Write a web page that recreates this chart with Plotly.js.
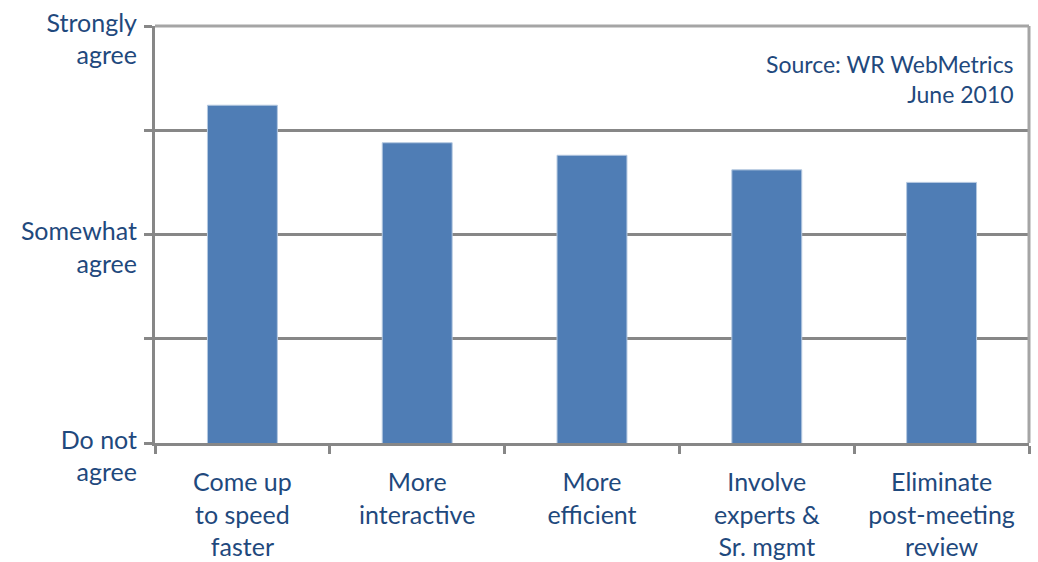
<!DOCTYPE html>
<html>
<head>
<meta charset="utf-8">
<script src="https://cdn.plot.ly/plotly-3.0.1.min.js"></script>
<style>html,body{margin:0;padding:0;background:#fff}#chart{width:1038px;height:562px}</style>
</head>
<body>
<div id="chart"></div>
<script>
const categories = ["Come up<br>to speed<br>faster", "More<br>interactive", "More<br>efficient", "Involve<br>experts &<br>Sr. mgmt", "Eliminate<br>post-meeting<br>review"];
const values = [2.62, 2.44, 2.38, 2.31, 2.25];
const tickVals = [1, 1.5, 2, 2.5, 3];
const tickText = ["Do not<br>agree", "", "Somewhat<br>agree", "", "Strongly<br>agree"];
const sourceText = "Source: WR WebMetrics<br>June 2010";

const textColor = "#1f497d";
const gridColor = "#878787";
const font = "Lato, 'Open Sans', sans-serif";

const data = [{
  type: "bar",
  x: categories,
  y: values,
  marker: {color: "#4f7db5", line: {color: "#b4c8e0", width: 1}},
  hoverinfo: "skip"
}];

const layout = {
  width: 1038, height: 562,
  margin: {l: 155, r: 9, t: 26, b: 119},
  paper_bgcolor: "#fff", plot_bgcolor: "#fff",
  showlegend: false,
  bargap: 0.6,
  font: {family: font, color: textColor, size: 25},
  xaxis: {
    type: "category",
    showline: true, linecolor: gridColor, linewidth: 3,
    ticks: "outside", tickson: "boundaries", ticklen: 8, tickwidth: 3, tickcolor: gridColor,
    showgrid: false, zeroline: false,
    ticklabelstandoff: 15,
    ticklabeloverflow: "allow",
    tickfont: {family: font, color: textColor, size: 25},
    fixedrange: true
  },
  yaxis: {
    range: [1, 3],
    tickmode: "array", tickvals: tickVals, ticktext: tickText,
    showline: true, linecolor: gridColor, linewidth: 3,
    ticks: "outside", ticklen: 8, tickwidth: 3, tickcolor: gridColor,
    showgrid: true, gridcolor: gridColor, gridwidth: 3,
    zeroline: false,
    ticklabelshift: 13,
    ticklabelstandoff: 2,
    ticklabeloverflow: "allow",
    tickfont: {family: font, color: textColor, size: 25},
    fixedrange: true
  },
  shapes: [
    {type: "line", xref: "paper", yref: "paper", x0: 0, x1: 1, y0: 1, y1: 1, line: {color: "#a5a5a5", width: 3}},
    {type: "line", xref: "paper", yref: "paper", x0: 1, x1: 1, y0: 0, y1: 1, line: {color: "#a5a5a5", width: 3}}
  ],
  annotations: [{
    xref: "paper", yref: "paper", x: 0.985, y: 0.947,
    xanchor: "right", yanchor: "top", align: "right",
    text: sourceText, showarrow: false,
    font: {family: font, color: textColor, size: 23}
  }]
};

Plotly.newPlot("chart", data, layout, {displayModeBar: false, staticPlot: true});
</script>
</body>
</html>
